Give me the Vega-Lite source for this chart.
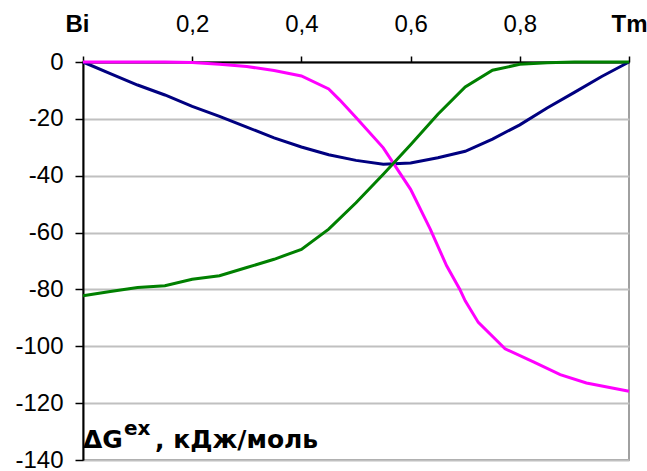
{
  "$schema": "https://vega.github.io/schema/vega-lite/v6.json",
  "width": 546,
  "height": 398,
  "autosize": {"type": "none"},
  "padding": {"left": 83, "top": 62, "right": 18, "bottom": 11},
  "background": "white",
  "config": {
    "view": {"stroke": "#a0a0a0", "strokeWidth": 2},
    "font": "Liberation Sans"
  },
  "datasets": {
    "curves": [
      {"s": "b", "x": 0, "y": 0}, {"s": "b", "x": 0.05, "y": -4.1}, {"s": "b", "x": 0.1, "y": -8.1}, {"s": "b", "x": 0.15, "y": -11.6}, {"s": "b", "x": 0.2, "y": -15.6}, {"s": "b", "x": 0.25, "y": -19.1}, {"s": "b", "x": 0.3, "y": -22.9}, {"s": "b", "x": 0.35, "y": -26.7}, {"s": "b", "x": 0.4, "y": -29.9}, {"s": "b", "x": 0.45, "y": -32.6}, {"s": "b", "x": 0.5, "y": -34.6}, {"s": "b", "x": 0.55, "y": -36.0}, {"s": "b", "x": 0.6, "y": -35.5}, {"s": "b", "x": 0.65, "y": -33.7}, {"s": "b", "x": 0.7, "y": -31.4}, {"s": "b", "x": 0.75, "y": -27.1}, {"s": "b", "x": 0.8, "y": -22.1}, {"s": "b", "x": 0.85, "y": -16.2}, {"s": "b", "x": 0.9, "y": -10.7}, {"s": "b", "x": 0.95, "y": -5.1}, {"s": "b", "x": 1, "y": 0},
      {"s": "m", "x": 0, "y": 0}, {"s": "m", "x": 0.05, "y": 0}, {"s": "m", "x": 0.1, "y": 0}, {"s": "m", "x": 0.15, "y": 0}, {"s": "m", "x": 0.2, "y": -0.2}, {"s": "m", "x": 0.25, "y": -0.8}, {"s": "m", "x": 0.3, "y": -1.6}, {"s": "m", "x": 0.35, "y": -3.0}, {"s": "m", "x": 0.4, "y": -4.9}, {"s": "m", "x": 0.45, "y": -9.5}, {"s": "m", "x": 0.47, "y": -13.3}, {"s": "m", "x": 0.5, "y": -19.5}, {"s": "m", "x": 0.55, "y": -30.2}, {"s": "m", "x": 0.6, "y": -44.8}, {"s": "m", "x": 0.636, "y": -58.8}, {"s": "m", "x": 0.666, "y": -71.7}, {"s": "m", "x": 0.69, "y": -79.9}, {"s": "m", "x": 0.7, "y": -84.0}, {"s": "m", "x": 0.724, "y": -91.6}, {"s": "m", "x": 0.773, "y": -100.9}, {"s": "m", "x": 0.825, "y": -105.5}, {"s": "m", "x": 0.874, "y": -110.0}, {"s": "m", "x": 0.922, "y": -112.9}, {"s": "m", "x": 1, "y": -115.8},
      {"s": "g", "x": 0, "y": -82.2}, {"s": "g", "x": 0.05, "y": -80.7}, {"s": "g", "x": 0.1, "y": -79.3}, {"s": "g", "x": 0.15, "y": -78.7}, {"s": "g", "x": 0.2, "y": -76.4}, {"s": "g", "x": 0.25, "y": -75.2}, {"s": "g", "x": 0.3, "y": -72.3}, {"s": "g", "x": 0.35, "y": -69.4}, {"s": "g", "x": 0.4, "y": -65.9}, {"s": "g", "x": 0.45, "y": -58.8}, {"s": "g", "x": 0.5, "y": -49.5}, {"s": "g", "x": 0.55, "y": -39.5}, {"s": "g", "x": 0.6, "y": -29.1}, {"s": "g", "x": 0.65, "y": -18.4}, {"s": "g", "x": 0.7, "y": -8.8}, {"s": "g", "x": 0.75, "y": -2.9}, {"s": "g", "x": 0.8, "y": -0.8}, {"s": "g", "x": 0.85, "y": -0.3}, {"s": "g", "x": 0.9, "y": 0}, {"s": "g", "x": 0.95, "y": 0}, {"s": "g", "x": 1, "y": 0}
    ]
  },
  "layer": [
    {
      "data": {"name": "curves"},
      "mark": {"type": "line", "strokeWidth": 3, "clip": false},
      "encoding": {
        "x": {
          "field": "x", "type": "quantitative",
          "scale": {"domain": [0, 1], "nice": false, "zero": false},
          "axis": {
            "orient": "top", "title": null,
            "values": [0, 0.2, 0.4, 0.6, 0.8, 1],
            "labelExpr": "datum.value == 0 ? 'Bi' : (datum.value == 1 ? 'Tm' : replace(format(datum.value, '.1f'), '.', ','))",
            "labelFontWeight": {"condition": {"test": "datum.value == 0 || datum.value == 1", "value": "bold"}, "value": "normal"},
            "labelOffset": {"condition": {"test": "datum.value == 0", "value": -6}, "value": 0},
            "labelFlush": false,
            "labelFontSize": 24,
            "labelColor": "black",
            "labelPadding": 20,
            "domainColor": "black", "domainWidth": 2,
            "tickColor": "black", "tickWidth": 1.5, "tickSize": 6,
            "grid": false
          }
        },
        "y": {
          "field": "y", "type": "quantitative",
          "scale": {"domain": [-140, 0], "nice": false},
          "axis": {
            "orient": "left", "title": null,
            "values": [-140, -120, -100, -80, -60, -40, -20, 0],
            "labelExpr": "'' + datum.value",
            "labelFontSize": 24,
            "labelColor": "black",
            "labelPadding": 12,
            "domainColor": "black", "domainWidth": 2,
            "tickColor": "black", "tickWidth": 1.5, "tickSize": 8,
            "grid": true, "gridColor": "#c0c0c0", "gridWidth": 2
          }
        },
        "color": {
          "field": "s", "type": "nominal",
          "scale": {"domain": ["b", "m", "g"], "range": ["#000080", "#ff00ff", "#008000"]},
          "legend": null
        },
        "detail": {"field": "s"}
      }
    },
    {
      "data": {"values": [{"t": "ΔG"}]},
      "mark": {"type": "text", "align": "left", "baseline": "alphabetic", "font": "DejaVu Sans", "fontSize": 25, "fontWeight": "bold", "dy": -12, "color": "black"},
      "encoding": {"x": {"datum": 0}, "y": {"datum": -140}, "text": {"field": "t"}}
    },
    {
      "data": {"values": [{"t": "ex"}]},
      "mark": {"type": "text", "align": "left", "baseline": "alphabetic", "font": "DejaVu Sans", "fontSize": 20, "fontWeight": "bold", "dx": 41, "dy": -25, "color": "black"},
      "encoding": {"x": {"datum": 0}, "y": {"datum": -140}, "text": {"field": "t"}}
    },
    {
      "data": {"values": [{"t": ", кДж/моль"}]},
      "mark": {"type": "text", "align": "left", "baseline": "alphabetic", "font": "DejaVu Sans", "fontSize": 25, "fontWeight": "bold", "dx": 72, "dy": -12, "color": "black"},
      "encoding": {"x": {"datum": 0}, "y": {"datum": -140}, "text": {"field": "t"}}
    }
  ]
}
